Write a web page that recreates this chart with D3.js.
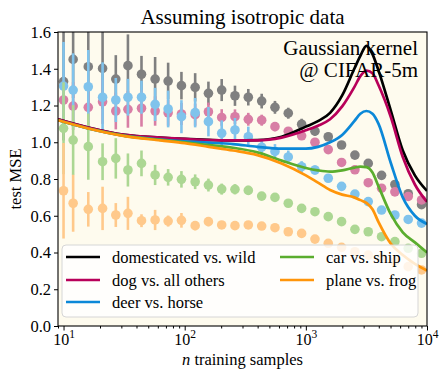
<!DOCTYPE html>
<html>
<head>
<meta charset="utf-8">
<script src="https://cdn.jsdelivr.net/npm/d3@7"></script>
<style>
  html, body { margin: 0; padding: 0; background: #ffffff; }
  svg { display: block; }
  text { font-family: "Liberation Serif", "DejaVu Serif", serif; fill: #000; }
</style>
</head>
<body>
<div id="chart"></div>
<script>
// ---------------- data ----------------
const seriesNames = ["domesticated vs. wild", "dog vs. all others", "deer vs. horse", "car vs. ship", "plane vs. frog"];

// empirical sample sizes
const nSamples = [10,12,16,21,27,34,44,57,73,94,122,157,202,260,335,432,556,716,923,1189,1531,1972,2541,3273,4217,5433,6998,9016];

const meanWild  = [1.33,1.451,1.411,1.402,1.344,1.417,1.37,1.344,1.333,1.308,1.299,1.266,1.284,1.253,1.245,1.224,1.19,1.158,1.098,1.06,1.03,0.985,0.93,0.885,0.82,0.77,0.72,0.66];
const errWild   = [0.32,0.21,0.24,0.22,0.13,0.17,0.1,0.12,0.1,0.075,0.077,0.064,0.06,0.055,0.045,0.04,0.035,0.03,0.03,0.025,0.022,0.02,0.02,0.018,0.016,0.015,0.014,0.013];

const meanDog   = [1.23,1.197,1.19,1.22,1.17,1.179,1.185,1.17,1.16,1.154,1.15,1.166,1.135,1.139,1.125,1.12,1.085,1.06,1.035,1.0,0.96,0.89,0.85,0.78,0.75,0.73,0.705,0.686];
const errDog    = [0.1,0.13,0.12,0.12,0.1,0.1,0.1,0.08,0.07,0.06,0.06,0.05,0.045,0.04,0.035,0.03,0.025,0.022,0.02,0.02,0.018,0.017,0.016,0.015,0.014,0.013,0.012,0.012];

const meanDeer  = [1.306,1.284,1.302,1.245,1.23,1.245,1.245,1.206,1.181,1.139,1.161,1.112,1.049,1.067,1.03,0.973,0.95,0.92,0.867,0.849,0.804,0.76,0.718,0.677,0.631,0.604,0.58,0.56];
const errDeer   = [0.24,0.2,0.2,0.19,0.12,0.1,0.09,0.09,0.1,0.09,0.08,0.08,0.07,0.065,0.055,0.045,0.04,0.035,0.03,0.025,0.022,0.02,0.018,0.016,0.015,0.014,0.013,0.012];

const meanCar   = [1.076,1.012,0.976,0.894,0.912,0.849,0.885,0.822,0.809,0.798,0.785,0.767,0.745,0.744,0.738,0.707,0.70,0.668,0.64,0.622,0.595,0.568,0.526,0.513,0.486,0.459,0.423,0.396];
const errCar    = [0.25,0.19,0.18,0.1,0.11,0.09,0.07,0.055,0.045,0.045,0.04,0.035,0.03,0.028,0.025,0.022,0.02,0.018,0.016,0.015,0.014,0.013,0.012,0.012,0.011,0.01,0.01,0.01];

const meanPlane = [0.736,0.668,0.635,0.64,0.604,0.613,0.573,0.577,0.571,0.575,0.546,0.568,0.55,0.546,0.55,0.544,0.535,0.513,0.504,0.473,0.45,0.428,0.404,0.386,0.37,0.35,0.323,0.305];
const errPlane  = [0.26,0.155,0.094,0.118,0.065,0.09,0.035,0.055,0.03,0.04,0.025,0.025,0.02,0.02,0.018,0.016,0.015,0.014,0.013,0.012,0.011,0.01,0.01,0.01,0.01,0.01,0.01,0.01];

// theory curves
const nTheory = [9,16,32,63,100,158,251,398,631,1000,1259,1585,1995,2512,2818,3162,3548,3981,5012,6310,7943,10000];
const theoryWild  = [1.125,1.08,1.04,1.025,1.018,1.013,1.01,1.012,1.03,1.085,1.115,1.16,1.255,1.40,1.47,1.525,1.48,1.39,1.175,0.955,0.82,0.735];
const theoryDog   = [1.125,1.08,1.04,1.025,1.018,1.012,1.01,1.01,1.025,1.065,1.09,1.125,1.195,1.30,1.36,1.39,1.375,1.31,1.14,0.92,0.77,0.675];
const theoryDeer  = [1.12,1.075,1.035,1.015,1.005,0.998,0.99,0.975,0.965,0.965,0.975,1.0,1.04,1.115,1.155,1.17,1.155,1.10,0.89,0.70,0.60,0.555];
const theoryCar   = [1.12,1.075,1.035,1.013,1.0,0.985,0.97,0.945,0.9,0.86,0.847,0.84,0.847,0.862,0.867,0.865,0.835,0.76,0.61,0.51,0.455,0.40];
const theoryPlane = [1.12,1.075,1.033,1.01,0.995,0.975,0.955,0.93,0.885,0.82,0.78,0.74,0.715,0.70,0.685,0.67,0.635,0.565,0.449,0.386,0.338,0.302];

const yTicks = [0.0,0.2,0.4,0.6,0.8,1.0,1.2,1.4,1.6];
const xTicks = [10,100,1000,10000];
const xTickExps = ["1","2","3","4"];

const lineColors  = ["#000000", "#b8005a", "#0b88d8", "#5aad2e", "#ff950a"];
const pointColors = ["#808080", "#d87ea5", "#80c3ec", "#acd793", "#ffc98b"];

// ---------------- layout ----------------
const W = 447, H = 381;
const L = 58, R = 427, T = 32, B = 326;

const svg = d3.select("#chart").append("svg").attr("width", W).attr("height", H);

const x = d3.scaleLog().domain([9, 10000]).range([L, R]);
const y = d3.scaleLinear().domain([0, 1.6]).range([B, T]);

svg.append("rect").attr("x", L).attr("y", T).attr("width", R - L).attr("height", B - T).attr("fill", "#fefbee");

svg.append("clipPath").attr("id", "clip").append("rect")
  .attr("x", L).attr("y", T).attr("width", R - L).attr("height", B - T);

const plot = svg.append("g").attr("clip-path", "url(#clip)");

const means = [meanWild, meanDog, meanDeer, meanCar, meanPlane];
const errs  = [errWild, errDog, errDeer, errCar, errPlane];
const theories = [theoryWild, theoryDog, theoryDeer, theoryCar, theoryPlane];

// error bars + points
means.forEach((m, s) => {
  const g = plot.append("g");
  g.selectAll("line").data(nSamples).join("line")
    .attr("x1", d => x(d)).attr("x2", d => x(d))
    .attr("y1", (d, i) => y(m[i] - errs[s][i]))
    .attr("y2", (d, i) => y(m[i] + errs[s][i]))
    .attr("stroke", pointColors[s]).attr("stroke-width", 2.6);
  g.selectAll("circle").data(nSamples).join("circle")
    .attr("cx", d => x(d)).attr("cy", (d, i) => y(m[i]))
    .attr("r", 4.8).attr("fill", pointColors[s]);
});

// theory lines
const lineGen = d3.line().x(d => x(d[0])).y(d => y(d[1])).curve(d3.curveMonotoneX);
theories.forEach((t, s) => {
  plot.append("path")
    .datum(nTheory.map((n, i) => [n, t[i]]))
    .attr("d", lineGen)
    .attr("fill", "none").attr("stroke", lineColors[s]).attr("stroke-width", 2.7)
    .attr("stroke-linejoin", "round");
});

// axes
const yAxis = d3.axisLeft(y).tickValues(yTicks).tickFormat(d3.format(".1f")).tickSize(4).tickPadding(3);
const gy = svg.append("g").attr("transform", `translate(${L},0)`).call(yAxis);
gy.select(".domain").remove();
gy.selectAll("text").style("font-size", "16.5px").style("font-family", "Liberation Serif, serif");

const minor = [];
for (let e = 0; e < 4; e++) for (let k = 2; k <= 9; k++) { const v = k * Math.pow(10, e); if (v >= 9 && v <= 10000) minor.push(v); }
const gxm = svg.append("g").attr("transform", `translate(0,${B})`)
  .call(d3.axisBottom(x).tickValues(minor).tickFormat("").tickSize(2.5));
gxm.select(".domain").remove();

const gx = svg.append("g").attr("transform", `translate(0,${B})`)
  .call(d3.axisBottom(x).tickValues(xTicks).tickFormat("").tickSize(4.5));
gx.select(".domain").remove();
gx.selectAll(".tick").append("text")
  .attr("y", 18.5).attr("text-anchor", "middle").style("font-size", "16px")
  .each(function(d, i) {
    const t = d3.select(this);
    t.append("tspan").text("10");
    t.append("tspan").attr("dy", -7).style("font-size", "11.5px").text(xTickExps[i]);
  });

// frame
svg.append("rect").attr("x", L).attr("y", T).attr("width", R - L).attr("height", B - T)
  .attr("fill", "none").attr("stroke", "#000").attr("stroke-width", 1.1);

// labels
svg.append("text").attr("x", (L + R) / 2).attr("y", 24).attr("text-anchor", "middle")
  .style("font-size", "21px").text("Assuming isotropic data");
svg.append("text").attr("x", 418).attr("y", 55).attr("text-anchor", "end")
  .style("font-size", "21px").text("Gaussian kernel");
svg.append("text").attr("x", 418).attr("y", 77).attr("text-anchor", "end")
  .style("font-size", "21px").text("@ CIFAR-5m");

svg.append("text").attr("transform", `translate(21,${(T + B) / 2}) rotate(-90)`)
  .attr("text-anchor", "middle").style("font-size", "16.5px").text("test MSE");

const xl = svg.append("text").attr("x", (L + R) / 2).attr("y", 364.5).attr("text-anchor", "middle").style("font-size", "16.5px");
xl.append("tspan").style("font-style", "italic").text("n");
xl.append("tspan").text(" training samples");

// legend
const lg = svg.append("g");
lg.append("rect").attr("x", 62).attr("y", 245).attr("width", 356).attr("height", 72)
  .attr("rx", 4).attr("fill", "rgba(255,255,255,0.8)").attr("stroke", "#d6d6d6").attr("stroke-width", 1);
const legPos = [[66, 257], [66, 280], [66, 302], [280, 257], [280, 280]];
seriesNames.forEach((name, i) => {
  const [lx, ly] = legPos[i];
  lg.append("line").attr("x1", lx).attr("x2", lx + 34).attr("y1", ly).attr("y2", ly)
    .attr("stroke", lineColors[i]).attr("stroke-width", 2.7);
  lg.append("text").attr("x", lx + 46).attr("y", ly + 5.5).style("font-size", "16.5px").text(name);
});
</script>
</body>
</html>
